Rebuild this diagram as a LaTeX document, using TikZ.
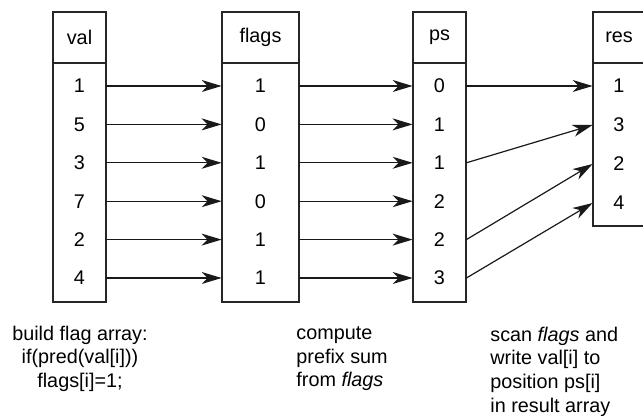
\documentclass[tikz,border=0pt]{standalone}
\usepackage{fontspec}
\setmainfont{Liberation Sans}
\usetikzlibrary{calc}
\usetikzlibrary{arrows.meta}

\begin{document}
\begin{tikzpicture}[x = 0.5pt, y = -0.5pt, font = \fontsize{9.9}{11.8}\selectfont,
	frame/.style = {draw = black!85, line width = 0.6pt},
	headline/.style = {draw = black!85, line width = 1.1pt},
	cell/.style = {minimum width = #1, inner sep = 0pt},
	link/.style = {draw = black!90, line width = 0.6pt, -{Stealth[length = 10pt, width = 6pt, inset = 3pt]}}]

	\useasboundingbox (0,0) rectangle (643,416);

	% heights shared by the arrays
	\def \colTop {12};
	\def \headBottom {63};
	\def \colBottom {302};
	\def \resBottom {226};
	\def \rowGap {38.4};

	% val array
	\draw [frame] (53,\colTop) rectangle (106,\colBottom);
	\draw [headline] (53,\headBottom) -- (106,\headBottom);
	\node (valHead) at (79.5, 37.5) {val};
	\foreach \v [count = \i] in {1,5,3,7,2,4}
		\node [cell = 26.5pt] (val\i) at (79.5, {86 + \rowGap*(\i-1)}) {\v};

	% flags array
	\draw [frame] (222,\colTop) rectangle (299,\colBottom);
	\draw [headline] (222,\headBottom) -- (299,\headBottom);
	\node (flagsHead) at (260.5, 37.5) {flags};
	\foreach \v [count = \i] in {1,0,1,0,1,1}
		\node [cell = 38.5pt] (flags\i) at (260.5, {86 + \rowGap*(\i-1)}) {\v};

	% prefix sum array
	\draw [frame] (413,\colTop) rectangle (466,\colBottom);
	\draw [headline] (413,\headBottom) -- (466,\headBottom);
	\node (psHead) at (439.5, 37.5) {ps};
	\foreach \v [count = \i] in {0,1,1,2,2,3}
		\node [cell = 26.5pt] (ps\i) at (439.5, {86 + \rowGap*(\i-1)}) {\v};

	% result array, runs off the right edge
	\draw [frame] (643,\colTop) -- (593,\colTop) -- (593,\resBottom) -- (643,\resBottom);
	\draw [headline] (593,\headBottom) -- (643,\headBottom);
	\node (resHead) at (619, 37.5) {res};
	\foreach \v [count = \i] in {1,3,2,4}
		\node [cell = 26pt] (res\i) at (619, {86 + 39*(\i-1)}) {\v};

	% val -> flags -> ps
	\foreach \i in {1,...,6} {
		\draw [link] (val\i) -- (flags\i);
		\draw [link] (flags\i) -- (ps\i);
	}

	% scatter into res where the flag is set
	\foreach \a/\b in {1/1, 3/2, 5/3, 6/4}
		\draw [link] (ps\a.east) -- (res\b.west);

	% notes under each step
	\node [align = center] (buildNote) at (80, 358.5) {build flag array:\\if(pred(val[i]))\\flags[i]=1;};
	\node [align = left, anchor = west, inner sep = 0pt] (scanNote) at (296, 359) {compute\\prefix sum\\from \textit{flags}};
	\node [align = left, anchor = west, inner sep = 0pt] (writeNote) at (490, 371.5) {scan \textit{flags} and\\write val[i] to\\position ps[i]\\in result array};

\end{tikzpicture}
\end{document}
